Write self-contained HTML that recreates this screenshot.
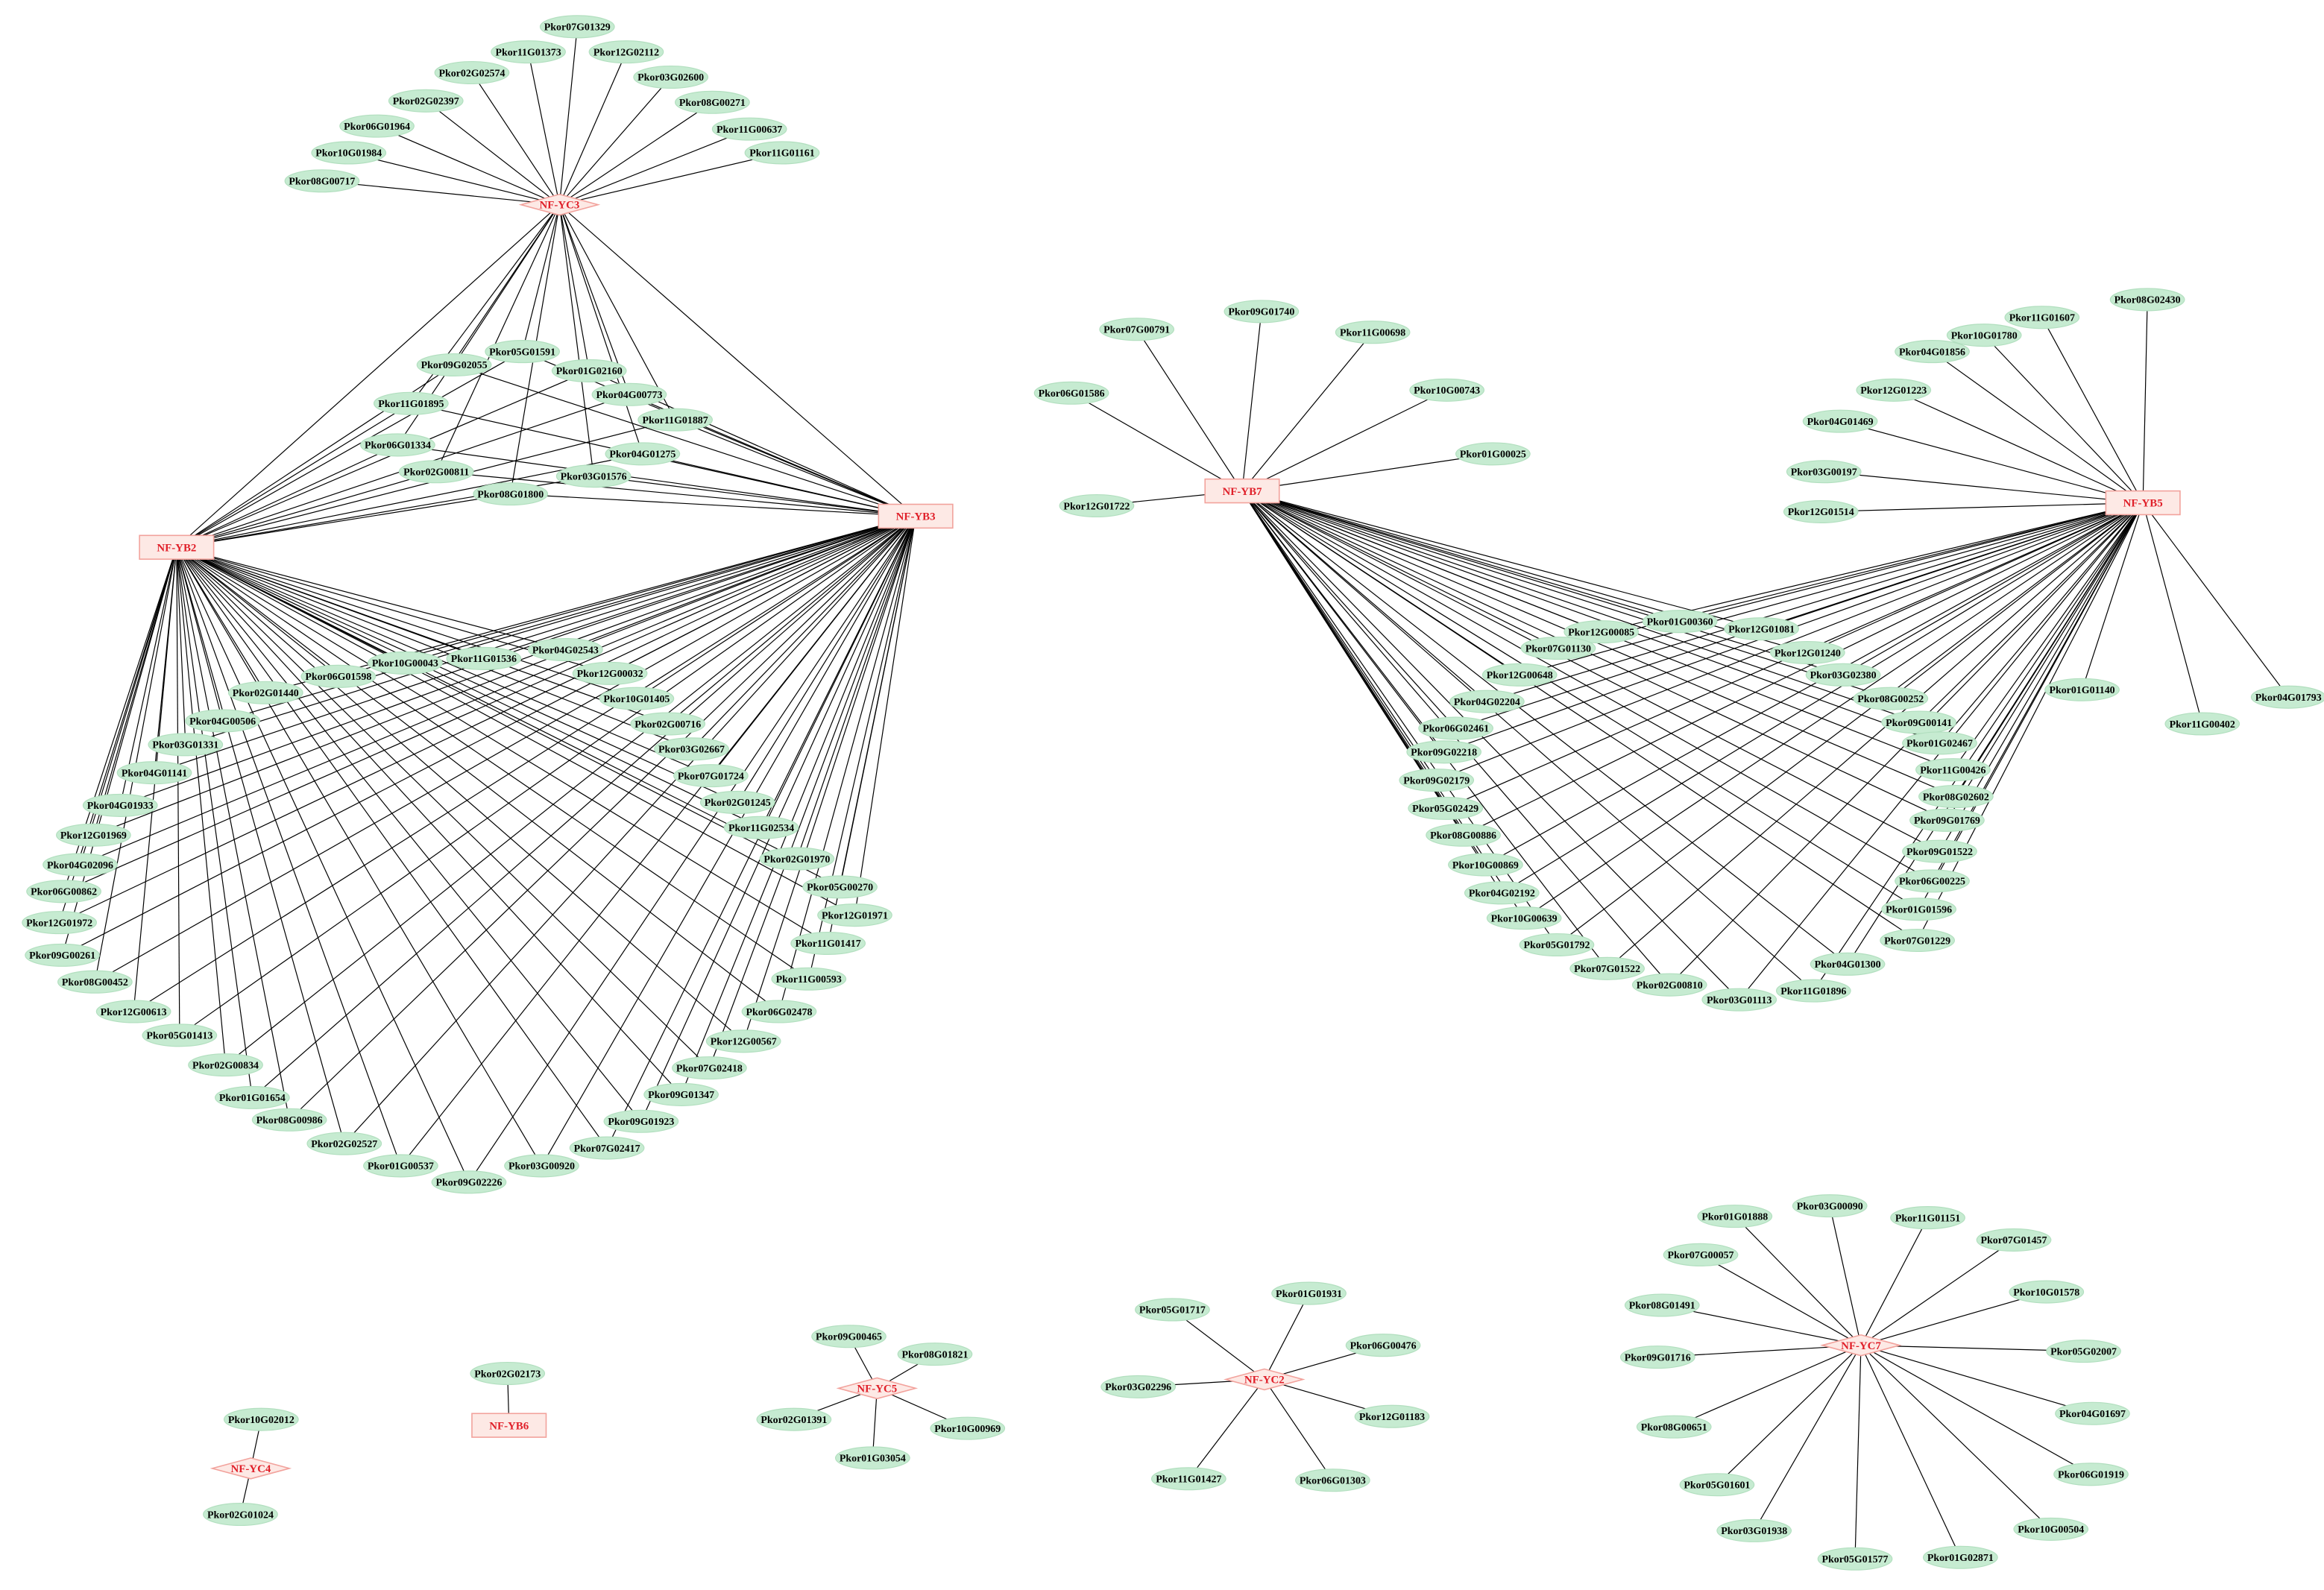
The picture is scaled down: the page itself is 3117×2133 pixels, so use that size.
<!DOCTYPE html>
<html><head><meta charset="utf-8"><style>
html,body{margin:0;padding:0;background:#fff}
svg{display:block}
text{font-family:"Liberation Serif",serif;font-weight:bold}
</style></head><body>
<svg id="g" xmlns="http://www.w3.org/2000/svg" width="3117" height="2133" viewBox="0 0 1566 1072" preserveAspectRatio="none"></svg>
<script>
const H={YC3:[377,138,'d','NF-YC3'],YB2:[119,369,'r','NF-YB2'],YB3:[617,348,'r','NF-YB3'],
YB7:[837,331,'r','NF-YB7'],YB5:[1444,339,'r','NF-YB5'],YC4:[169,990,'d','NF-YC4'],YB6:[343,961,'r','NF-YB6'],
YC5:[591,936,'d','NF-YC5'],YC2:[852,930,'d','NF-YC2'],YC7:[1254,907,'d','NF-YC7']};
const groups=[
[['YC3'],`07G01329 389 18;11G01373 356 35;12G02112 422 35;02G02574 318 49;03G02600 452 52;02G02397 287 68;08G00271 480 69;06G01964 254 85;11G00637 505 87;10G01984 235 103;11G01161 527 103;08G00717 217 122`],
[['YC3','YB2','YB3'],`05G01591 352 237;09G02055 306 246;01G02160 397 250;04G00773 424 266;11G01895 277 272;11G01887 455 283;06G01334 268 300;04G01275 433 306;02G00811 294 318;03G01576 400 321;08G01800 344 333`],
[['YB2','YB3'],`10G00043 273 447;11G01536 326 444;04G02543 381 438;06G01598 228 456;12G00032 411 454;02G01440 179 467;10G01405 429 471;04G00506 150 486;02G00716 450 488;03G01331 125 502;03G02667 466 505;04G01141 104 521;07G01724 479 523;04G01933 81 543;02G01245 497 541;11G02534 513 558;12G01969 63 563;04G02096 54 583;02G01970 537 579;06G00862 43 601;05G00270 566 598;12G01972 40 622;12G01971 576 617;09G00261 42 644;11G01417 558 636;08G00452 64 662;11G00593 545 660;12G00613 90 682;06G02478 525 682;05G01413 121 698;12G00567 501 702;02G00834 152 718;07G02418 478 720;01G01654 170 740;09G01347 459 738;08G00986 195 755;09G01923 432 756;02G02527 232 771;07G02417 409 774;01G00537 270 786;03G00920 365 786;09G02226 316 797`],
[['YB7'],`07G00791 766 222;09G01740 850 210;11G00698 925 224;06G01586 722 265;10G00743 975 263;01G00025 1006 306;12G01722 739 341`],
[['YB5'],`08G02430 1447 202;11G01607 1376 214;10G01780 1337 226;04G01856 1302 237;12G01223 1276 263;04G01469 1240 284;03G00197 1229 318;12G01514 1227 345;01G01140 1403 465;11G00402 1484 488;04G01793 1542 470`],
[['YB7','YB5'],`01G00360 1132 419;12G00085 1079 426;12G01081 1187 424;07G01130 1050 437;12G01240 1218 440;12G00648 1024 455;03G02380 1242 455;04G02204 1002 473;08G00252 1274 471;06G02461 981 491;09G00141 1293 487;09G02218 973 507;01G02467 1307 501;09G02179 968 526;11G00426 1316 519;05G02429 974 545;08G02602 1318 537;08G00886 986 563;09G01769 1312 553;10G00869 1001 583;09G01522 1307 574;04G02192 1012 602;06G00225 1302 594;10G00639 1027 619;01G01596 1293 613;05G01792 1049 637;07G01229 1292 634;07G01522 1083 653;04G01300 1245 650;02G00810 1125 664;03G01113 1172 674;11G01896 1222 668`],
[['YC4'],`10G02012 176 957;02G01024 162 1021`],
[['YB6'],`02G02173 342 926`],
[['YC5'],`09G00465 572 901;08G01821 630 913;02G01391 535 957;10G00969 652 963;01G03054 588 983`],
[['YC2'],`05G01717 790 883;01G01931 882 872;06G00476 932 907;03G02296 767 935;12G01183 938 955;11G01427 801 997;06G01303 898 998`],
[['YC7'],`01G01888 1169 820;03G00090 1233 813;11G01151 1299 821;07G01457 1357 836;07G00057 1146 846;10G01578 1379 871;08G01491 1120 880;05G02007 1404 911;09G01716 1117 915;04G01697 1410 953;08G00651 1128 962;06G01919 1409 994;05G01601 1157 1001;10G00504 1382 1031;03G01938 1182 1032;01G02871 1321 1050;05G01577 1250 1051`]
];
const NS='http://www.w3.org/2000/svg',svg=document.getElementById('g');
const E=svg.appendChild(document.createElementNS(NS,'g')),N=svg.appendChild(document.createElementNS(NS,'g'));
function el(p,t,a,txt){const e=document.createElementNS(NS,t);for(const k in a)e.setAttribute(k,a[k]);if(txt)e.textContent=txt;p.appendChild(e);return e;}
function line(a,b){el(E,'line',{x1:a[0],y1:a[1],x2:b[0],y2:b[1],stroke:'#000','stroke-width':0.6});}
line(H.YC3,H.YB2);line(H.YC3,H.YB3);
const nodes=[];
for(const [hs,s] of groups){for(const it of s.split(';')){const [n,x,y]=it.trim().split(' ');const p=[+x,+y];nodes.push([n,p]);for(const h of hs)line(p,H[h]);}}
for(const [n,p] of nodes){el(N,'ellipse',{cx:p[0],cy:p[1],rx:25,ry:7.5,fill:'#c6ebd1',stroke:'#b2dfbf','stroke-width':0.6});
el(N,'text',{x:p[0],y:p[1]+2.4,'text-anchor':'middle','font-size':7,fill:'#000'},'Pkor'+n);}
for(const k in H){const [x,y,t,l]=H[k];
if(t==='r')el(N,'rect',{x:x-25,y:y-8,width:50,height:16,fill:'#fde9e5',stroke:'#f2a29c','stroke-width':0.8});
else el(N,'polygon',{points:`${x-26},${y} ${x},${y-7} ${x+26},${y} ${x},${y+7}`,fill:'#fde9e5',stroke:'#f2a29c','stroke-width':0.8});
el(N,'text',{x:x,y:y+2.6,'text-anchor':'middle','font-size':7.5,fill:'#e0202a'},l);}
</script>
</body></html>
